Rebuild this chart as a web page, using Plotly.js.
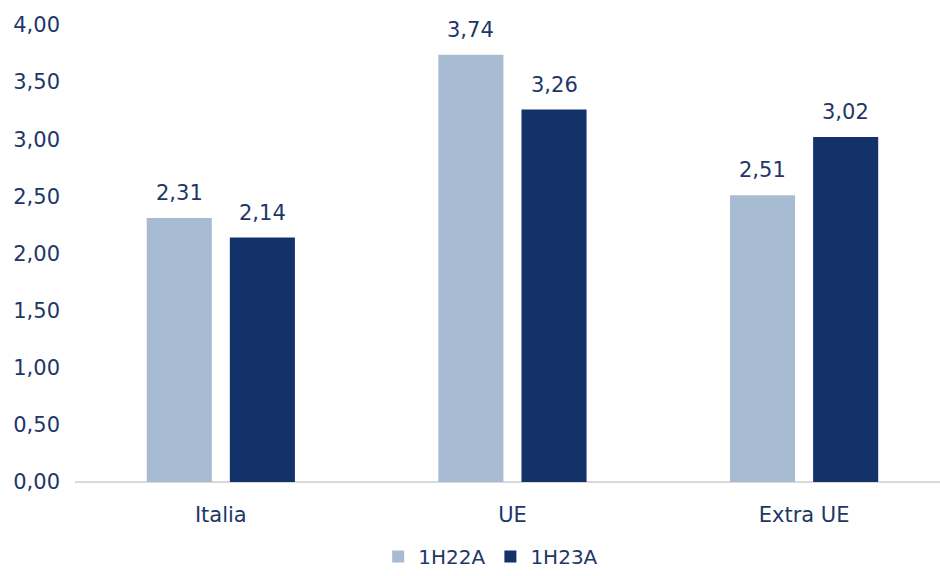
<!DOCTYPE html>
<html>
<head>
<meta charset="utf-8">
<script src="https://cdn.plot.ly/plotly-3.0.1.min.js"></script>
<style>html,body{margin:0;padding:0;background:#fff;}#chart{width:940px;height:576px;}</style>
</head>
<body>
<div id="chart"></div>
<script>
var categories = ["Italia", "UE", "Extra UE"];
var series1Name = "1H22A";
var series2Name = "1H23A";
var series1 = [2.31, 3.74, 2.51];
var series2 = [2.14, 3.26, 3.02];
var yTicks = [0, 0.5, 1, 1.5, 2, 2.5, 3, 3.5, 4];

var lightColor = "#A7BBD3";
var darkColor = "#13326A";
var textColor = "#1E3766";
var fontFamily = "'DejaVu Sans', sans-serif";

var W = 940, H = 576;
var margin = {l: 75, r: 0, t: 25, b: 94};
var xRange = [-0.5, 2.466];
var bargap = 0.43, bargroupgap = 0.217;
var pxPerCat = (W - margin.l - margin.r) / (xRange[1] - xRange[0]);
var slot = pxPerCat * (1 - bargap) / 2;

function fmt(v){ return v.toFixed(2).replace('.', ','); }

var annotations = [];
[series1, series2].forEach(function(s, si){
  s.forEach(function(v, i){
    annotations.push({
      x: categories[i], y: v, xref: 'x', yref: 'y',
      text: fmt(v), showarrow: false,
      xshift: (si === 0 ? -1 : 1) * slot / 2,
      yanchor: 'bottom', yshift: 11,
      font: {family: fontFamily, size: 21, color: textColor}
    });
  });
});

var traces = [
  {type: 'bar', name: series1Name, x: categories, y: series1, marker: {color: lightColor}, hoverinfo: 'none'},
  {type: 'bar', name: series2Name, x: categories, y: series2, marker: {color: darkColor}, hoverinfo: 'none'}
];

var layout = {
  width: W, height: H, margin: margin,
  paper_bgcolor: '#fff', plot_bgcolor: '#fff',
  separators: ',.',
  barmode: 'group', bargap: bargap, bargroupgap: bargroupgap,
  font: {family: fontFamily, color: textColor, size: 20},
  showlegend: true,
  legend: {orientation: 'h', xref: 'container', x: 0.522, xanchor: 'center',
           yref: 'container', y: 0.0, yanchor: 'bottom',
           font: {family: fontFamily, size: 20, color: textColor}, itemwidth: 30, tracegroupgap: 0},
  xaxis: {type: 'category', range: xRange, showgrid: false, zeroline: false,
          showline: false, ticks: '', ticklabelstandoff: 18,
          tickfont: {family: fontFamily, size: 21, color: textColor}},
  yaxis: {range: [0, 4], tickvals: yTicks, tickformat: '.2f', showgrid: false,
          zeroline: true, zerolinecolor: '#D9D9D9', zerolinewidth: 2,
          showline: false, ticks: '', ticklabelstandoff: 14,
          tickfont: {family: fontFamily, size: 21, color: textColor}},
  annotations: annotations
};

Plotly.newPlot('chart', traces, layout, {displayModeBar: false, staticPlot: true});
</script>
</body>
</html>
